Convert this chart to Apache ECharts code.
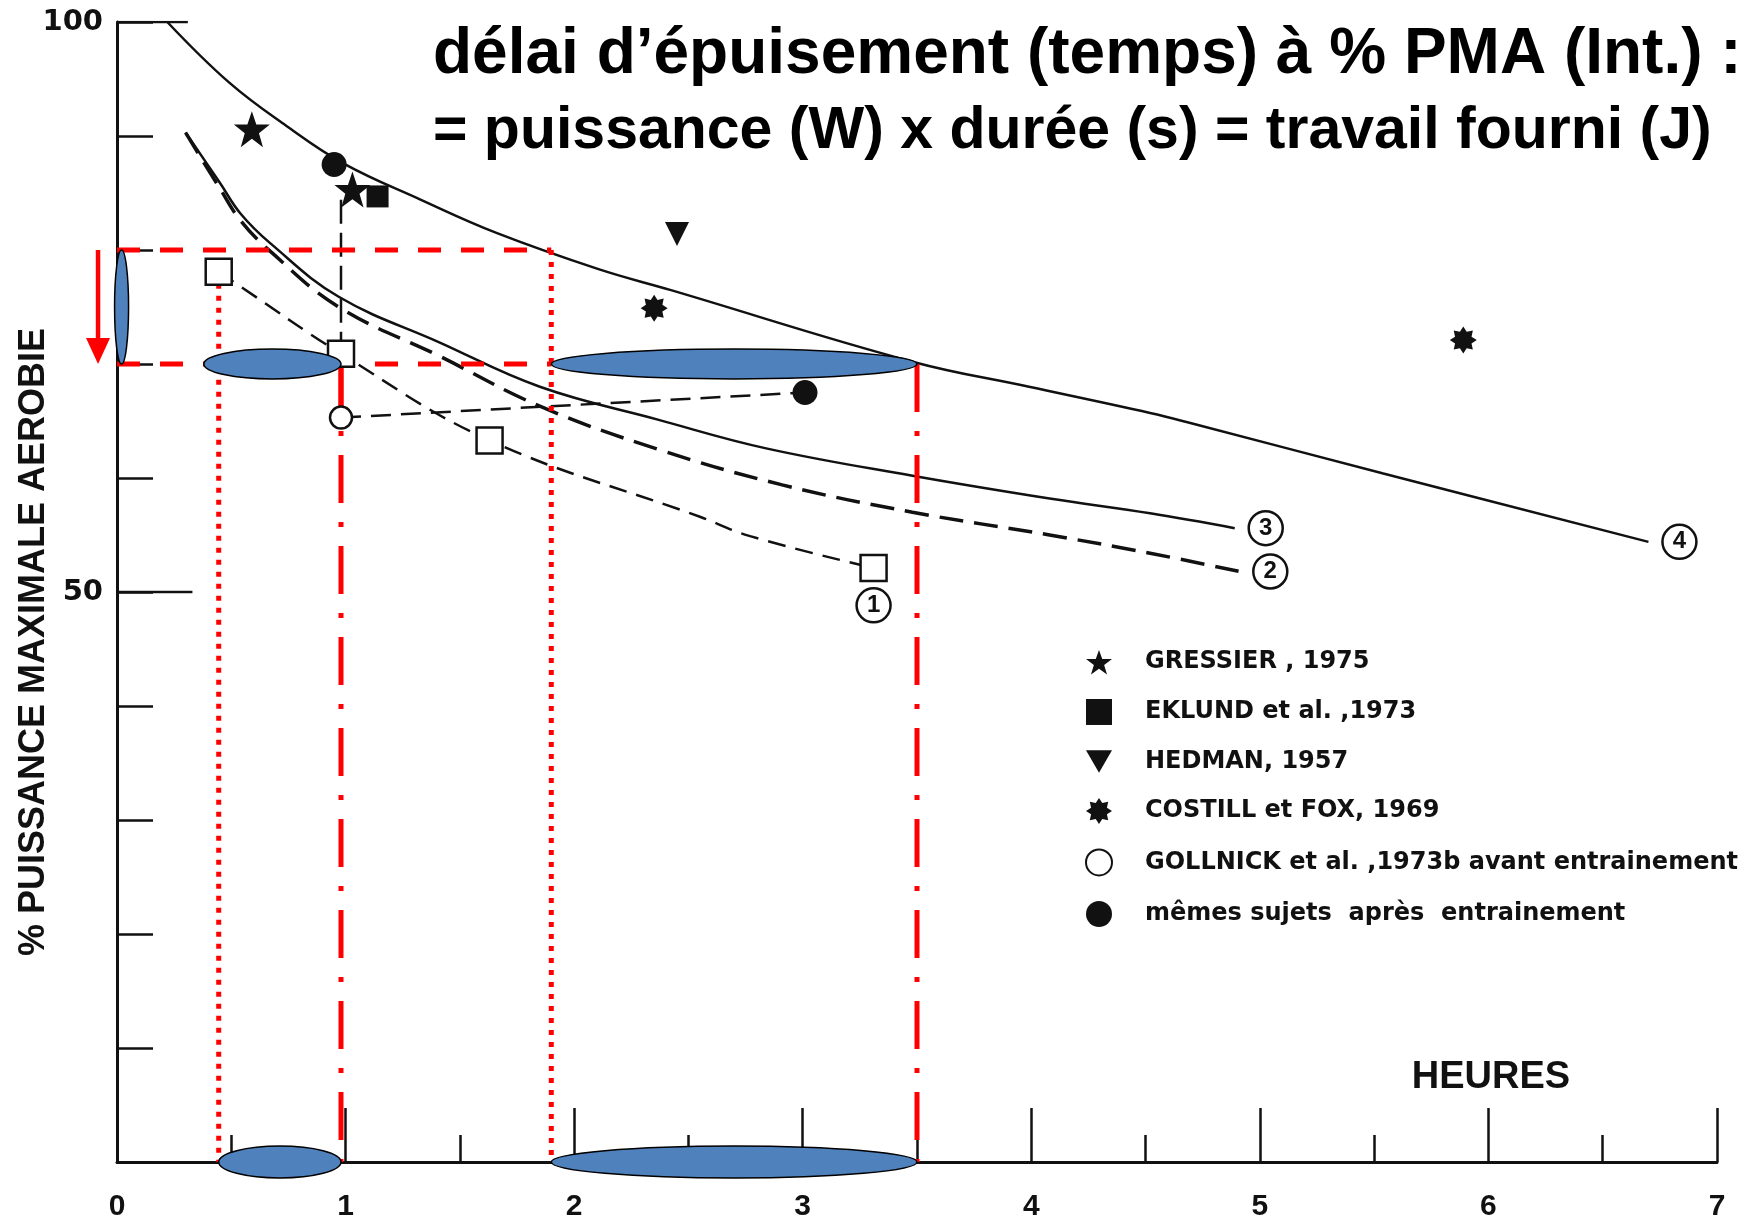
<!DOCTYPE html>
<html>
<head>
<meta charset="utf-8">
<script src="https://cdn.jsdelivr.net/npm/echarts/dist/echarts.min.js"></script>
<style>
  html, body { margin: 0; background: #fff; }
  #chart { width: 1752px; height: 1230px; }
</style>
</head>
<body>
<div id="chart"></div>
<script>
var FONT = '"Liberation Sans", Arial, sans-serif';
var WIDE = '"DejaVu Sans", sans-serif';
var INK = '#111';
var RED = '#ff0000';
var BLUE = '#4f81bd';

// courbes : [heures, % PMA]
var curve1 = [[0.445, 78.1], [0.54, 76.8], [0.98, 70.9], [1.63, 63.3], [2.55, 56.6], [2.77, 54.9], [3.31, 52.1]];
var curve2 = [[0.30, 90.3], [0.45, 85.4], [0.54, 82.6], [0.67, 79.9], [0.97, 75.0], [1.41, 70.7], [1.85, 66.3],
              [2.37, 62.5], [2.91, 59.4], [3.48, 57.0], [4.08, 55.0], [4.52, 53.4], [4.91, 51.8]];
var curve3 = [[0.30, 90.3], [0.45, 85.9], [0.54, 83.2], [0.67, 80.6], [0.97, 75.9], [1.41, 71.9], [1.85, 68.0],
              [2.37, 65.1], [2.84, 62.6], [3.48, 60.2], [4.08, 58.2], [4.52, 56.9], [4.89, 55.6]];
var curve4 = [[0.22, 100], [0.49, 94.7], [0.74, 90.9], [0.99, 87.6], [1.33, 84.4], [1.66, 81.5], [2.11, 78.3],
              [2.42, 76.5], [3.48, 70.2], [3.99, 68.0], [4.52, 65.7], [4.70, 64.8], [5.54, 60.4], [6.70, 54.4]];

// points experimentaux
var openSquares = [[0.445, 78.1], [0.98, 70.9], [1.63, 63.3], [3.31, 52.1]];
var gressier = [[0.59, 90.6], [1.03, 85.3]];
var eklund = [[1.14, 84.7]];
var hedman = [[2.45, 81.4]];
var costill = [[2.35, 74.9], [5.89, 72.1]];
var gollnickAvant = [[0.98, 65.3]];
var gollnickApres = [[0.95, 87.5], [3.01, 67.5]];
var gollnickLink = [[0.98, 65.3], [3.01, 67.5]];
var gollnickDrop = [[0.98, 84.4], [0.98, 71.9]];

var legendNames = ['GRESSIER , 1975', 'EKLUND et al. ,1973', 'HEDMAN, 1957', 'COSTILL et FOX, 1969',
                   'GOLLNICK et al. ,1973b avant entrainement', 'mêmes sujets  après  entrainement'];
var yLabels = [50, 100];
var longTicks = [[50, 0.33], [100, 0.31]];   // [niveau, fin en heures]

// annotations rouges
var dashedLevels = [[80, 1.9], [70, 1.9]];        // [niveau, fin en heures]
var dottedGuides = [[0.445, 78.1], [1.9, 80]];    // [heures, depart]
var dashDotGuides = [[0.98, 70], [3.5, 70]];
var redSolid = [[0.98, 70], [0.98, 65.3]];
var arrowAt = [[-0.083, 80, 70]];

// ellipses bleues
var plateauSpans = [[0.38, 0.98, 70], [1.9, 3.5, 70]];
var axisSpans = [[0.445, 0.98, 0], [1.9, 3.5, 0]];
var bandSpan = [[0.02, 70, 80]];

var starPath = 'path://M50,2 L61.8,35.4 L97.6,35.4 L68.8,57.1 L79.4,91.6 L50,70.6 L20.6,91.6 L31.2,57.1 L2.4,35.4 L38.2,35.4 Z';
var triDownPath = 'path://M0,0 L100,0 L50,86 Z';
function burstPath(n, r1, r2) {
  var pts = [];
  for (var i = 0; i < n * 2; i++) {
    var r = i % 2 ? r2 : r1;
    var a = Math.PI * i / n - Math.PI / 2;
    pts.push((50 + r * Math.cos(a)).toFixed(1) + ',' + (50 + r * Math.sin(a)).toFixed(1));
  }
  return 'path://M' + pts.join(' L') + ' Z';
}
var burst = burstPath(8, 50, 33);

function plain(data, style, z) {
  return { type: 'line', data: data, symbol: 'none', silent: true, z: z || 3, lineStyle: style };
}

function circled(num) {
  return {
    show: true, formatter: '{c|' + num + '}', distance: 14,
    rich: { c: { width: 34, height: 34, lineHeight: 34, align: 'center', borderColor: INK, borderWidth: 2.5,
                 borderRadius: 17, fontSize: 24, fontWeight: 'bold', color: INK, fontFamily: FONT } }
  };
}

function curve(data, dash, width, num) {
  return {
    type: 'line', data: data, symbol: 'none', smooth: 0.4, silent: true, z: 2,
    lineStyle: { color: INK, width: width, type: dash },
    endLabel: num ? circled(num) : undefined
  };
}

function hEllipses(spans, ry) {
  return {
    type: 'custom', data: spans, encode: { x: [0, 1], y: 2 }, z: 8, silent: true, clip: false,
    renderItem: function (p, api) {
      var a = api.coord([api.value(0), api.value(2)]);
      var b = api.coord([api.value(1), api.value(2)]);
      return { type: 'ellipse', shape: { cx: (a[0] + b[0]) / 2, cy: a[1], rx: (b[0] - a[0]) / 2, ry: ry },
               style: { fill: BLUE, stroke: '#000', lineWidth: 1.5 } };
    }
  };
}

var series = [
  curve(curve4, 'solid', 2.5, '4'),
  curve(curve3, 'solid', 2.5, '3'),
  curve(curve2, [24, 11], 3.5, '2'),
  curve(curve1, [18, 10], 2.5, null),
  plain(gollnickLink, { color: INK, width: 2.5, type: [20, 10] }, 2),
  plain(gollnickDrop, { color: INK, width: 2.5, type: [24, 9] }, 2)
];

longTicks.forEach(function (t) {
  series.push(plain([[0, t[0]], [t[1], t[0]]], { color: INK, width: 2.5 }, 2));
});
dashedLevels.forEach(function (l) {
  series.push(plain([[0, l[0]], [l[1], l[0]]], { color: RED, width: 5, type: [23, 20], cap: 'butt' }, 4));
});
dottedGuides.forEach(function (g) {
  series.push(plain([[g[0], g[1]], [g[0], 0]], { color: RED, width: 5, type: [5, 7], cap: 'butt' }, 4));
});
dashDotGuides.forEach(function (g) {
  series.push(plain([[g[0], g[1]], [g[0], 0]], { color: RED, width: 5, type: [48, 19, 5, 19], cap: 'butt' }, 4));
});
series.push(plain(redSolid, { color: RED, width: 5 }, 4));

series.push({
  type: 'scatter', data: openSquares.map(function (p, i) {
    if (i < openSquares.length - 1) return p;
    var lab = circled('1');
    lab.position = 'bottom';
    lab.distance = 6;
    return { value: p, label: lab };
  }),
  symbol: 'rect', symbolSize: 26, z: 5, silent: true,
  itemStyle: { color: '#fff', borderColor: INK, borderWidth: 2.5, opacity: 1 }
});

var markerDefs = [
  [legendNames[0], gressier, starPath, 36, {}],
  [legendNames[1], eklund, 'rect', 22, {}],
  [legendNames[2], hedman, triDownPath, 24, {}],
  [legendNames[3], costill, burst, 27, {}],
  [legendNames[4], gollnickAvant, 'circle', 22, { color: '#fff', borderColor: INK, borderWidth: 2.5 }],
  [legendNames[5], gollnickApres, 'circle', 25, {}]
];
markerDefs.forEach(function (m) {
  var style = Object.assign({ color: INK, opacity: 1 }, m[4]);
  series.push({ name: m[0], type: 'scatter', data: m[1], symbol: m[2], symbolSize: m[3], z: 6, silent: true, itemStyle: style });
});

series.push(hEllipses(plateauSpans, 15));
series.push(hEllipses(axisSpans, 16));
series.push({
  type: 'custom', data: bandSpan, encode: { x: 0, y: [1, 2] }, z: 8, silent: true, clip: false,
  renderItem: function (p, api) {
    var a = api.coord([api.value(0), api.value(1)]);
    var b = api.coord([api.value(0), api.value(2)]);
    return { type: 'ellipse', shape: { cx: a[0], cy: (a[1] + b[1]) / 2, rx: 7, ry: (a[1] - b[1]) / 2 },
             style: { fill: BLUE, stroke: '#000', lineWidth: 1.5 } };
  }
});
series.push({
  type: 'custom', data: arrowAt, encode: { x: 0, y: [1, 2] }, z: 8, silent: true, clip: false,
  renderItem: function (p, api) {
    var top = api.coord([api.value(0), api.value(1)]);
    var tip = api.coord([api.value(0), api.value(2)]);
    return { type: 'group', children: [
      { type: 'line', shape: { x1: top[0], y1: top[1], x2: tip[0], y2: tip[1] - 20 }, style: { stroke: RED, lineWidth: 4.5 } },
      { type: 'polygon', shape: { points: [[tip[0] - 12, tip[1] - 26], [tip[0] + 12, tip[1] - 26], [tip[0], tip[1]]] }, style: { fill: RED } }
    ] };
  }
});

var chart = echarts.init(document.getElementById('chart'));
chart.setOption({
  animation: false,
  backgroundColor: '#fff',
  textStyle: { fontFamily: FONT },
  title: {
    text: '{a|délai d’épuisement (temps) à % PMA (Int.) :}\n{b|= puissance (W) x durée (s) = travail fourni (J)}',
    left: 428, top: 12,
    textStyle: {
      color: '#000', fontFamily: FONT, fontWeight: 'bold',
      rich: {
        a: { fontSize: 64, lineHeight: 76, fontWeight: 'bold', color: '#000', fontFamily: FONT },
        b: { fontSize: 59, lineHeight: 78, fontWeight: 'bold', color: '#000', fontFamily: FONT }
      }
    }
  },
  grid: { left: 117, right: 35, top: 22, bottom: 68 },
  xAxis: {
    type: 'value', min: 0, max: 7, interval: 1,
    axisLine: { lineStyle: { color: INK, width: 3 } },
    axisTick: { inside: true, length: 54, lineStyle: { color: INK, width: 2.5 } },
    minorTick: { show: true, splitNumber: 2, length: 27, lineStyle: { color: INK, width: 2.5 } },
    splitLine: { show: false },
    axisLabel: { margin: 30, fontSize: 30, fontWeight: 'bold', color: INK, fontFamily: FONT }
  },
  yAxis: {
    type: 'value', min: 0, max: 100, interval: 10,
    axisLine: { show: true, lineStyle: { color: INK, width: 3 } },
    axisTick: { show: true, inside: true, length: 36, lineStyle: { color: INK, width: 2.5 } },
    splitLine: { show: false },
    axisLabel: {
      margin: 14, fontSize: 29, fontWeight: 'bold', color: INK, fontFamily: WIDE,
      formatter: function (v) { return yLabels.indexOf(v) >= 0 ? String(v) : ''; }
    }
  },
  legend: {
    data: legendNames, orient: 'vertical', left: 1080, top: 645,
    itemWidth: 26, itemHeight: 26, itemGap: 24.5, selectedMode: false,
    textStyle: { fontSize: 24, fontWeight: 'bold', color: INK, fontFamily: WIDE, padding: [0, 0, 0, 28] }
  },
  graphic: [
    { type: 'text', x: 34, y: 642, rotation: Math.PI / 2,
      style: { text: '% PUISSANCE MAXIMALE AEROBIE', font: 'bold 36px ' + FONT, fill: INK, align: 'center', verticalAlign: 'middle' } },
    { type: 'text', x: 1491, y: 1078,
      style: { text: 'HEURES', font: 'bold 38px ' + FONT, fill: INK, align: 'center', verticalAlign: 'middle' } }
  ],
  series: series
});
</script>
</body>
</html>
